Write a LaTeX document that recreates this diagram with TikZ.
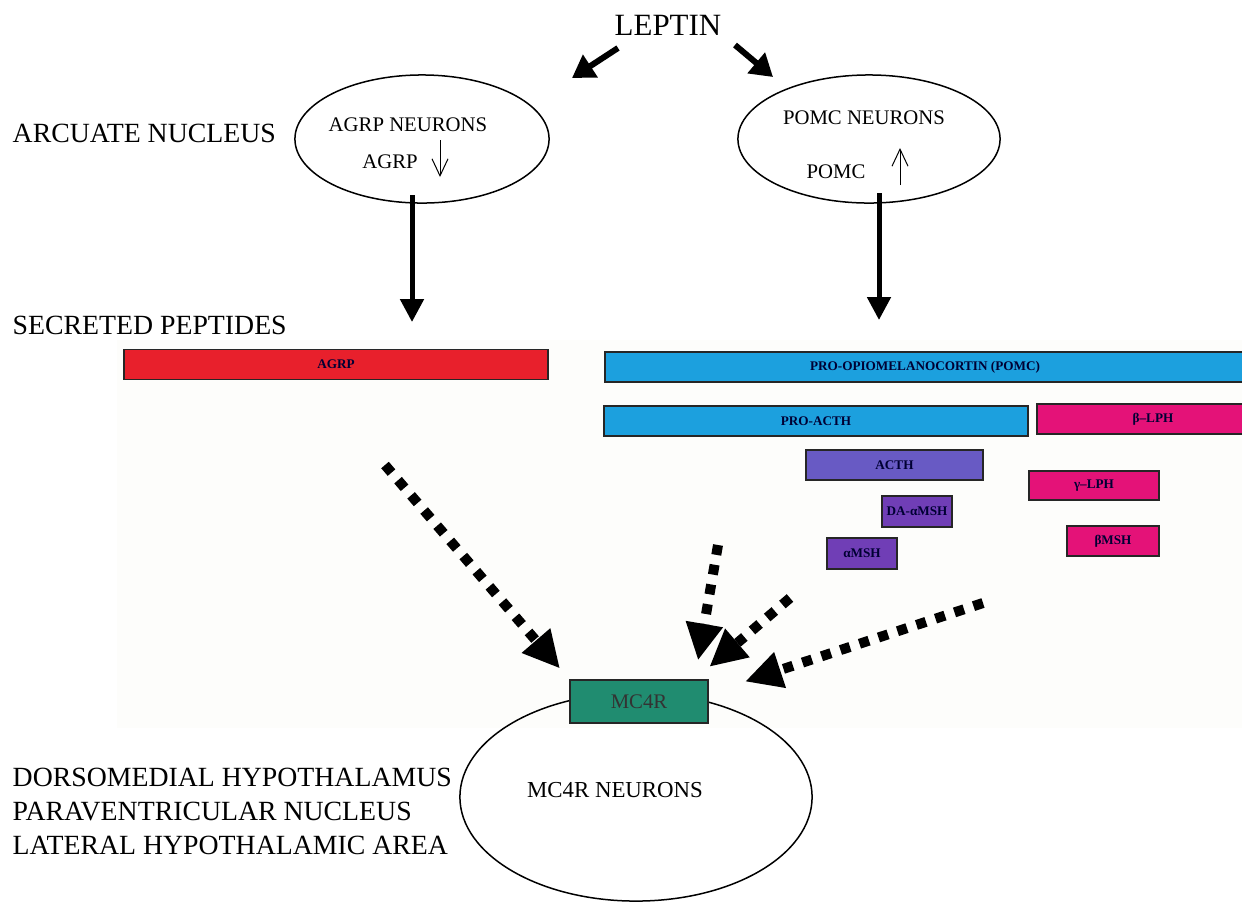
\documentclass[tikz,border=0pt]{standalone}
\usepackage{fontspec}
\setmainfont{Liberation Serif}
\usetikzlibrary{arrows.meta,calc,shapes.geometric}

\definecolor{agrpred}{RGB}{232,32,44}
\definecolor{pomcblue}{RGB}{28,160,222}
\definecolor{lphpink}{RGB}{228,18,120}
\definecolor{acthviolet}{RGB}{104,90,196}
\definecolor{mshviolet}{RGB}{112,62,182}
\definecolor{mcgreen}{RGB}{32,140,112}
\definecolor{paper}{RGB}{253,253,251}

\def\bigfont{\fontsize{7.9}{9.5}\selectfont}
\def\leptinfont{\fontsize{8.8}{10}\selectfont}
\def\cellfont{\fontsize{5.9}{7}\selectfont}
\def\barfont{\bfseries\fontsize{3.75}{4.5}\selectfont}

\begin{document}
\begin{tikzpicture}[x=0.01cm, y=-0.01cm,
    bar/.style={draw=black!85, line width=0.15mm, inner sep=0pt, font=\barfont, text=black!80!blue},
    cell/.style={draw, ellipse, line width=0.15mm, inner sep=0pt},
    region/.style={anchor=west, font=\bigfont, inner sep=0pt},
    fatarrow/.style={line width=0.06cm, -{Triangle[length=0.22cm, width=0.26cm]}},
    stemarrow/.style={line width=0.05cm, -{Triangle[length=0.23cm, width=0.23cm]}},
    thinarrow/.style={line width=0.1mm, -{Straight Barb[length=0.17cm, width=0.16cm]}},
    dotarrow/.style={line width=0.1cm, dash pattern=on 0.1cm off 0.1cm, -{Triangle[length=0.36cm, width=0.38cm, line width=0pt]}}]
    %%%%% START %%%%%
    \useasboundingbox (0,0) rectangle (1242,902);
    \fill[paper] (117,340) rectangle (1242,728);

    \node[font=\leptinfont, inner sep=0pt] (leptin) at (668,25) {LEPTIN};

    % arcuate nucleus
    \node[region] (arcuate) at (12,133) {ARCUATE NUCLEUS};
    \node[cell, minimum width=2.54cm, minimum height=1.28cm] (agrpcell) at (422,139) {};
    \node[cell, minimum width=2.62cm, minimum height=1.28cm] (pomccell) at (869,139) {};
    \node[font=\cellfont, inner sep=0pt] (agrpneur) at (408,125) {AGRP NEURONS};
    \node[font=\cellfont, inner sep=0pt] (agrplbl) at (390,162) {AGRP};
    \node[font=\cellfont, inner sep=0pt] (pomcneur) at (864,118) {POMC NEURONS};
    \node[font=\cellfont, inner sep=0pt] (pomclbl) at (836,172) {POMC};

    \coordinate (lepl) at (618,48);
    \coordinate (lepltip) at (572,78);
    \coordinate (lepr) at (735,45);
    \coordinate (leprtip) at (773,77);
    \draw[fatarrow] (lepl) -- (lepltip);
    \draw[fatarrow] (lepr) -- (leprtip);

    \coordinate (agrpdn) at (440,140);
    \coordinate (agrpdntip) at (440,177);
    \coordinate (pomcup) at (900,185);
    \coordinate (pomcuptip) at (900,148);
    \draw[thinarrow] (agrpdn) -- (agrpdntip);
    \draw[thinarrow] (pomcup) -- (pomcuptip);

    \coordinate (agrpstem) at (412,195);
    \coordinate (agrpsec) at (412,322);
    \coordinate (pomcstem) at (879,193);
    \coordinate (pomcsec) at (879,320);
    \draw[stemarrow] (agrpstem) -- (agrpsec);
    \draw[stemarrow] (pomcstem) -- (pomcsec);

    % secreted peptides
    \node[region] (secreted) at (12,325) {SECRETED PEPTIDES};
    \node[bar, fill=agrpred, minimum width=4.24cm, minimum height=0.30cm] (agrpbar) at (336,364.5) {AGRP};
    \node[bar, fill=pomcblue, minimum width=6.40cm, minimum height=0.30cm] (pomcbar) at (925,367) {PRO-OPIOMELANOCORTIN (POMC)};
    \node[bar, fill=pomcblue, minimum width=4.24cm, minimum height=0.30cm] (proacth) at (816,421) {PRO-ACTH};
    \node[bar, fill=lphpink, minimum width=2.32cm, minimum height=0.30cm] (betalph) at (1153,419) {β–LPH};
    \node[bar, fill=acthviolet, minimum width=1.77cm, minimum height=0.30cm] (acth) at (894.5,465) {ACTH};
    \node[bar, fill=mshviolet, minimum width=0.70cm, minimum height=0.31cm] (damsh) at (917,511.5) {DA-αMSH};
    \node[bar, fill=mshviolet, minimum width=0.70cm, minimum height=0.31cm] (amsh) at (862,553.5) {αMSH};
    \node[bar, fill=lphpink, minimum width=1.30cm, minimum height=0.29cm] (gammalph) at (1094,485.5) {γ–LPH};
    \node[bar, fill=lphpink, minimum width=0.92cm, minimum height=0.30cm] (bmsh) at (1113,541) {βMSH};

    % target neurons
    \node[cell, minimum width=3.52cm, minimum height=2.08cm] (mc4rcell) at (636,797) {};
    \node[draw=black!85, fill=mcgreen, line width=0.15mm, inner sep=0pt, minimum width=1.38cm, minimum height=0.43cm, font=\cellfont, text=black!80] (mc4r) at (639,701.5) {MC4R};
    \node[font=\fontsize{6.5}{7.5}\selectfont, inner sep=0pt] (mc4rneur) at (615,790) {MC4R NEURONS};
    \node[region] (dorso) at (12,777) {DORSOMEDIAL HYPOTHALAMUS};
    \node[region] (paraventr) at (12,811) {PARAVENTRICULAR NUCLEUS};
    \node[region] (lateral) at (12,845) {LATERAL HYPOTHALAMIC AREA};

    \coordinate (agrpdot) at (385,465);
    \coordinate (pomcdota) at (718,545);
    \coordinate (pomcdotb) at (790,598);
    \coordinate (pomcdotc) at (983,603);
    \draw[dotarrow, shorten >=0.15cm] (agrpdot) -- (mc4r.north west);
    \draw[dotarrow, shorten >=0.2cm] (pomcdota) -- ($(mc4r.north east)+(-14,0)$);
    \draw[dotarrow, shorten >=0.2cm] (pomcdotb) -- ($(mc4r.north east)+(-14,0)$);
    \draw[dotarrow, shorten >=0.39cm] (pomcdotc) -- ($(mc4r.east)+(0,-8)$);
    %%%%% END %%%%%
\end{tikzpicture}
\end{document}
